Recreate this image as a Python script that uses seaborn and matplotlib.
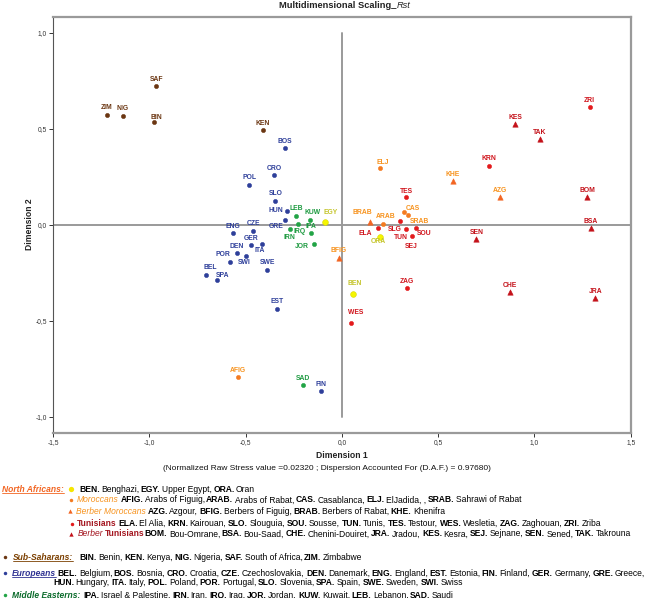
import matplotlib
matplotlib.use("Agg")
import matplotlib.pyplot as plt
import seaborn as sns
import pandas as pd
from matplotlib.lines import Line2D
from matplotlib.ticker import FuncFormatter

# MDS coordinates (Dimension 1, Dimension 2)
north_codes = ["BEN", "EGY", "ORA"]
north_d1 = [0.060, -0.090, 0.198]
north_d2 = [-0.360, 0.015, -0.063]

moroc_codes = ["AFIG", "ARAB", "CAS", "ELJ", "SRAB"]
moroc_d1 = [-0.540, 0.214, 0.322, 0.200, 0.344]
moroc_d2 = [-0.794, 0.005, 0.064, 0.293, 0.048]

bmoroc_codes = ["AZG", "BFIG", "BRAB", "KHE"]
bmoroc_d1 = [0.823, -0.016, 0.147, 0.576]
bmoroc_d2 = [0.144, -0.172, 0.014, 0.225]

tun_codes = ["ELA", "KRN", "SLG", "SOU", "TUN", "TES", "WES", "ZAG", "ZRI", "SEJ"]
tun_d1 = [0.188, 0.763, 0.303, 0.386, 0.332, 0.334, 0.045, 0.339, 1.287, 0.362]
tun_d2 = [-0.018, 0.307, 0.019, -0.018, -0.023, 0.145, -0.511, -0.330, 0.611, -0.058]

btun_codes = ["BOM", "BSA", "CHE", "JRA", "KES", "SEN", "TAK"]
btun_d1 = [1.275, 1.294, 0.875, 1.316, 0.899, 0.699, 1.027]
btun_d2 = [0.144, -0.019, -0.351, -0.382, 0.524, -0.075, 0.444]

ssa_codes = ["BIN", "KEN", "NIG", "SAF", "ZIM"]
ssa_d1 = [-0.978, -0.410, -1.137, -0.964, -1.222]
ssa_d2 = [0.533, 0.491, 0.567, 0.722, 0.572]

eur_codes = ["BEL", "BOS", "CRO", "CZE", "DEN", "ENG", "EST", "FIN", "GER",
             "GRE", "HUN", "ITA", "POL", "POR", "SLO", "SPA", "SWE", "SWI"]
eur_d1 = [-0.704, -0.296, -0.353, -0.459, -0.547, -0.564, -0.336, -0.109, -0.472,
          -0.294, -0.287, -0.417, -0.481, -0.583, -0.345, -0.649, -0.388, -0.498]
eur_d2 = [-0.264, 0.399, 0.258, -0.031, -0.150, -0.046, -0.438, -0.867, -0.106,
          0.022, 0.072, -0.103, 0.208, -0.195, 0.125, -0.289, -0.236, -0.162]

me_codes = ["IPA", "IRN", "IRQ", "JOR", "KUW", "LEB", "SAD"]
me_d1 = [-0.159, -0.270, -0.227, -0.147, -0.166, -0.239, -0.204]
me_d2 = [-0.046, -0.025, 0.003, -0.101, 0.026, 0.046, -0.837]

# legend text
north_legend = [("BEN", "Benghazi"), ("EGY", "Upper Egypt"), ("ORA", "Oran")]
moroc_legend = [("AFIG", "Arabs of Figuig"), ("ARAB", "Arabs of Rabat"), ("CAS", "Casablanca"),
                ("ELJ", "ElJadida, "), ("SRAB", "Sahrawi of Rabat")]
bmoroc_legend = [("AZG", "Azgour"), ("BFIG", "Berbers of Figuig"), ("BRAB", "Berbers of Rabat"),
                 ("KHE", "Khenifra")]
tun_legend = [("ELA", "El Alia"), ("KRN", "Kairouan"), ("SLO", "Slouguia"), ("SOU", "Sousse"),
              ("TUN", "Tunis"), ("TES", "Testour"), ("WES", "Wesletia"), ("ZAG", "Zaghouan"),
              ("ZRI", "Zriba")]
btun_legend = [("BOM", "Bou-Omrane"), ("BSA", "Bou-Saad"), ("CHE", "Chenini-Douiret"),
               ("JRA", "Jradou"), ("KES", "Kesra"), ("SEJ", "Sejnane"), ("SEN", "Sened"),
               ("TAK", "Takrouna")]
ssa_legend = [("BIN", "Benin"), ("KEN", "Kenya"), ("NIG", "Nigeria"), ("SAF", "South of Africa"),
              ("ZIM", "Zimbabwe")]
eur_legend_1 = [("BEL", "Belgium"), ("BOS", "Bosnia"), ("CRO", "Croatia"), ("CZE", "Czechoslovakia"),
                ("DEN", "Danemark"), ("ENG", "England"), ("EST", "Estonia"), ("FIN", "Finland"),
                ("GER", "Germany"), ("GRE", "Greece,")]
eur_legend_2 = [("HUN", "Hungary"), ("ITA", "Italy"), ("POL", "Poland"), ("POR", "Portugal"),
                ("SLO", "Slovenia"), ("SPA", "Spain"), ("SWE", "Sweden"), ("SWI", "Swiss")]
me_legend = [("IPA", "Israel & Palestine"), ("IRN", "Iran"), ("IRQ", "Iraq"), ("JOR", "Jordan"),
             ("KUW", "Kuwait"), ("LEB", "Lebanon"), ("SAD", "Saudi")]

# group styling: marker, size, point colour, label colour
groups = {
    "North Africans": (north_codes, north_d1, north_d2, "o", 17, "#f5f500", "#c4c42a"),
    "Moroccans": (moroc_codes, moroc_d1, moroc_d2, "o", 9, "#f47b20", "#f7931e"),
    "Berber Moroccans": (bmoroc_codes, bmoroc_d1, bmoroc_d2, "^", 15, "#f26522", "#f7931e"),
    "Tunisians": (tun_codes, tun_d1, tun_d2, "o", 9, "#e31a1c", "#d0141c"),
    "Berber Tunisians": (btun_codes, btun_d1, btun_d2, "^", 15, "#c4121a", "#c4121a"),
    "Sub-Saharans": (ssa_codes, ssa_d1, ssa_d2, "o", 9, "#6b3612", "#6b3612"),
    "Europeans": (eur_codes, eur_d1, eur_d2, "o", 9, "#2e3f9a", "#2e3f9a"),
    "Middle Easterns": (me_codes, me_d1, me_d2, "o", 9, "#22a446", "#1d9a40"),
}

# label offsets in points (default is centred above the point)
label_offset = {
    "HUN": (-7.5, 0), "EGY": (4.6, 6.7), "GRE": (-6.5, -4.6), "IRQ": (1, -5.5),
    "IRN": (0, -5.8), "JOR": (-8.5, -1.5), "ITA": (-1, -4.3), "SWI": (-1, -4.8),
    "POR": (-5, 5.3), "BEL": (2.7, 5.8), "SPA": (3.8, 3.6), "TES": (0, 3.6),
    "CAS": (6.2, 2.6), "SRAB": (8, -4.5), "ARAB": (2.2, 5), "BRAB": (-5.3, 6.7),
    "ELA": (-9.1, -3.8), "ORA": (-1.4, -3.8), "SLG": (-3.8, -6), "TUN": (-3.6, -6),
    "SOU": (5.8, -3.8), "SEJ": (0, -7.4), "ELJ": (1.7, 4.1), "BEN": (0.7, 7.2),
    "WES": (3.6, 7.2), "BIN": (2.4, 3.8), "KUW": (1.9, 5),
}

W, H = 669, 598
sns.set_style("white")
plt.rcParams["font.family"] = ["Liberation Sans", "DejaVu Sans"]

fig = plt.figure(figsize=(W / 100, H / 100), dpi=100)
ax = fig.add_axes([53 / W, 1 - 432.7 / H, (630.7 - 53) / W, (432.7 - 17.3) / H])

# reference lines through the origin
ax.plot([-1.5, 1.5], [0, 0], color="#9a9a9a", lw=1.4, zorder=1)
ax.plot([0, 0], [-1, 1], color="#9a9a9a", lw=1.4, zorder=1)

rows = []
for g, (codes, d1, d2, *_rest) in groups.items():
    for c, a, b in zip(codes, d1, d2):
        rows.append({"code": c, "dim1": a, "dim2": b, "group": g})
df = pd.DataFrame(rows)

for g, (codes, d1, d2, mk, sz, col, lcol) in groups.items():
    sub = df[df["group"] == g]
    edge = "#d8d800" if g == "North Africans" else col
    sns.scatterplot(data=sub, x="dim1", y="dim2", marker=mk, s=sz, color=col,
                    edgecolor=edge, linewidth=0.4, ax=ax, zorder=3, legend=False)
    for _, r in sub.iterrows():
        dx, dy = label_offset.get(r["code"], (0, 5))
        ax.annotate(r["code"], (r["dim1"], r["dim2"]), xytext=(dx, dy),
                    textcoords="offset points", ha="center", va="center",
                    fontsize=4.9, fontweight="bold", color=lcol, zorder=4)

ax.set_xlim(-1.5, 1.5)
ax.set_ylim(-1.084, 1.080)
ax.set_xticks([-1.5, -1.0, -0.5, 0.0, 0.5, 1.0, 1.5])
ax.set_yticks([-1.0, -0.5, 0.0, 0.5, 1.0])
comma = FuncFormatter(lambda v, p: f"{v:.1f}".replace(".", ","))
ax.xaxis.set_major_formatter(comma)
ax.yaxis.set_major_formatter(comma)
ax.tick_params(axis="both", which="major", direction="out", length=3, width=0.7,
               labelsize=4.8, labelcolor="#333333", color="#333333", pad=1.5,
               bottom=True, left=True)
for side in ["top", "right", "bottom"]:
    ax.spines[side].set_color("#9a9a9a")
    ax.spines[side].set_linewidth(1.6)
ax.spines["left"].set_color("#555555")
ax.spines["left"].set_linewidth(0.8)
ax.set_xlabel("")
ax.set_ylabel("")

fig.text(341.7 / W, 1 - 455 / H, "Dimension 1", ha="center", va="center",
         fontsize=6.2, fontweight="bold", color="#222222")
fig.text(29 / W, 1 - 224.6 / H, "Dimension 2", ha="center", va="center", rotation=90,
         fontsize=6.2, fontweight="bold", color="#222222")
fig.text(327 / W, 1 - 468 / H,
         "(Normalized Raw Stress value =0.02320 ; Dispersion Accounted For (D.A.F.) = 0.97680)",
         ha="center", va="center", fontsize=6.0, color="#111111")

# ---- rich text helpers (mixed bold / italic pieces on one line) ----
renderer = fig.canvas.get_renderer()
FS = 6.15


def rich_line(x, y, parts, fs=FS, space_em=0.18):
    space = fs * 100 / 72 * space_em
    for txt, color, weight, style, underline in parts:
        lead = len(txt) - len(txt.lstrip(" "))
        trail = len(txt) - len(txt.rstrip(" "))
        x += lead * space
        core = txt.strip(" ")
        if core:
            t = fig.text(x / W, 1 - y / H, core, fontsize=fs, color=color,
                         fontweight=weight, fontstyle=style, ha="left", va="center")
            bb = t.get_window_extent(renderer)
            if underline:
                fig.add_artist(Line2D([bb.x0 / W, bb.x1 / W], [(bb.y0 + 0.3) / H] * 2,
                                      color=color, lw=0.6))
            x += bb.width
        x += trail * space
    return x


def entry_parts(entries):
    parts = []
    for i, (code, name) in enumerate(entries):
        sep = "," if i < len(entries) - 1 else ""
        parts.append((f"{code}.", "black", "bold", "normal", False))
        parts.append((f" {name}{sep} ", "black", "normal", "normal", False))
    return parts


def marker(x, y, mk, col, ms):
    fig.add_artist(Line2D([x / W], [1 - y / H], marker=mk, color=col, ms=ms, lw=0,
                          markeredgewidth=0))


# title: bold text followed by italic "Rst"
rich_line(279, 6, [("Multidimensional Scaling_", "#222222", "bold", "normal", False),
                   ("Rst", "#222222", "normal", "italic", False)], fs=6.7, space_em=0.278)

marker(71, 489, "o", "#f5e600", 3.8)
rich_line(2, 489, [("North Africans:", "#f26522", "bold", "italic", True)])
rich_line(79, 489, entry_parts(north_legend))

marker(71, 500, "o", "#f47b20", 2.5)
rich_line(77, 500, [("Moroccans ", "#f7931e", "normal", "italic", False)]
          + entry_parts(moroc_legend))

marker(70, 511, "^", "#f26522", 3.1)
rich_line(76, 511, [("Berber Moroccans ", "#f7931e", "normal", "italic", False)]
          + entry_parts(bmoroc_legend))

marker(72, 523.5, "o", "#e31a1c", 2.5)
rich_line(77, 523.5, [("Tunisians ", "#a3141e", "bold", "normal", False)]
          + entry_parts(tun_legend))

marker(71, 534, "^", "#c4121a", 3.1)
rich_line(78, 534, [("Berber ", "#a3141e", "normal", "italic", False),
                    ("Tunisians", "#a3141e", "bold", "normal", False)]
          + entry_parts(btun_legend))

marker(5, 557, "o", "#6b3612", 2.5)
rich_line(13, 557, [("Sub-Saharans:", "#7b3f00", "bold", "italic", True),
                    ("  ", "black", "normal", "normal", False)]
          + entry_parts(ssa_legend))

marker(5, 573, "o", "#2e3f9a", 2.5)
rich_line(12, 573, [("Europeans ", "#2e3192", "bold", "italic", True)]
          + entry_parts(eur_legend_1))
rich_line(53, 582.5, entry_parts(eur_legend_2))

marker(5, 595, "o", "#22a446", 2.5)
rich_line(12, 595, [("Middle Easterns:", "#0b6b2b", "bold", "italic", True),
                    (" ", "black", "normal", "normal", False)]
          + entry_parts(me_legend))

fig.savefig("out.png", dpi=100)
